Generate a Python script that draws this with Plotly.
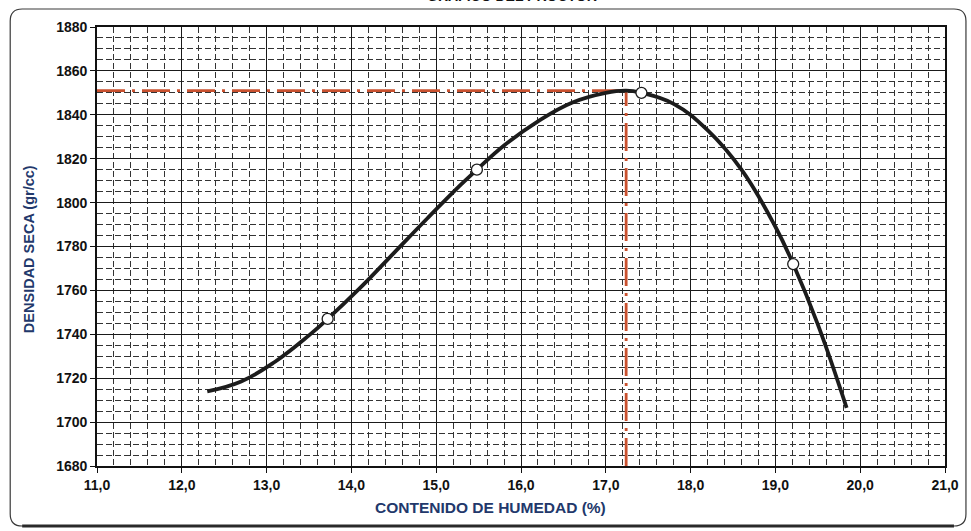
import plotly.graph_objects as go

# ---- data ----
humidity_pts = [13.72, 15.48, 17.42, 19.21]          # contenido de humedad (%)
density_pts = [1747, 1815, 1850, 1772]               # densidad seca (gr/cc)

curve_x = [12.3, 12.7, 13.1, 13.5, 13.72, 14.1, 14.5, 14.9, 15.3, 15.48, 15.8,
           16.2, 16.6, 17.0, 17.24, 17.42, 17.8, 18.2, 18.6, 19.0, 19.21, 19.5,
           19.84]
curve_y = [1714, 1718.5, 1727.5, 1739.5, 1747, 1761, 1777, 1793, 1808.5, 1815,
           1826, 1837, 1845.5, 1850, 1851, 1850, 1845, 1833, 1815, 1789, 1772,
           1744.5, 1706.5]

opt_humidity = 17.24
max_density = 1851

x_range = [11, 21]
y_range = [1680, 1880]

title_text = "GRAFICO DEL PROCTOR"
x_title = "CONTENIDO DE HUMEDAD (%)"
y_title = "DENSIDAD SECA (gr/cc)"

# ---- styles ----
FONT = "Arial, Liberation Sans, sans-serif"
NAVY = "#22386b"
RED = "#c9512f"
W, H = 971, 531
L, R, T, B = 97, 24, 27, 65

fig = go.Figure()

fig.add_trace(go.Scatter(
    x=[x_range[0], opt_humidity], y=[max_density, max_density],
    mode="lines", line=dict(color=RED, width=2.8, dash="28px,7px,3px,7px"),
    hoverinfo="skip", showlegend=False))
fig.add_trace(go.Scatter(
    x=[opt_humidity, opt_humidity], y=[y_range[0], max_density],
    mode="lines", line=dict(color=RED, width=2.8, dash="28px,7px,3px,7px"),
    hoverinfo="skip", showlegend=False))

fig.add_trace(go.Scatter(
    x=curve_x, y=curve_y, mode="lines",
    line=dict(color="#1c1c1c", width=3.8, shape="spline", smoothing=1.2),
    showlegend=False))

fig.add_trace(go.Scatter(
    x=humidity_pts, y=density_pts, mode="markers",
    marker=dict(size=11, color="white", line=dict(color="#1c1c1c", width=1.3)),
    showlegend=False))

axis_common = dict(
    showline=True, mirror=True, linecolor="#111", linewidth=1.6,
    showgrid=True, gridcolor="#1a1a1a", gridwidth=1.3,
    ticks="outside", ticklen=5, tickcolor="#111", tickwidth=1.2,
    zeroline=False,
    tickfont=dict(family=FONT, size=14, color="#111", weight="bold"),
)

fig.update_xaxes(
    range=x_range, dtick=1, tick0=11, tickformat=".1f",
    minor=dict(dtick=0.2, tick0=11, showgrid=True, gridcolor="#333333",
               gridwidth=1.3, griddash="6px,3px", ticks=""),
    **axis_common)
fig.update_yaxes(
    range=y_range, dtick=20, tick0=1680,
    minor=dict(dtick=5, tick0=1680, showgrid=True, gridcolor="#333333",
               gridwidth=1.3, griddash="6px,3px", ticks=""),
    **axis_common)

pw, ph = W - L - R, H - T - B


def px_x(X):
    return (X - L) / pw


def px_y(Y):
    return (H - B - Y) / ph


# rounded outer frame
fl, fr, ft, fb, rad = 10, 968, 9, 526, 12
path = (f"M {px_x(fl+rad)},{px_y(ft)} L {px_x(fr-rad)},{px_y(ft)} "
        f"Q {px_x(fr)},{px_y(ft)} {px_x(fr)},{px_y(ft+rad)} "
        f"L {px_x(fr)},{px_y(fb-rad)} Q {px_x(fr)},{px_y(fb)} {px_x(fr-rad)},{px_y(fb)} "
        f"L {px_x(fl+rad)},{px_y(fb)} Q {px_x(fl)},{px_y(fb)} {px_x(fl)},{px_y(fb-rad)} "
        f"L {px_x(fl)},{px_y(ft+rad)} Q {px_x(fl)},{px_y(ft)} {px_x(fl+rad)},{px_y(ft)} Z")
fig.add_shape(type="path", xref="paper", yref="paper", path=path,
              line=dict(color="#3a3a3a", width=1.2), layer="below")
fig.add_shape(type="line", xref="paper", yref="paper",
              x0=px_x(fl + rad), x1=px_x(fr - rad), y0=px_y(fb), y1=px_y(fb),
              line=dict(color="#2a2a2a", width=3), layer="below")

fig.add_annotation(text=title_text, xref="paper", yref="paper",
                   x=px_x(513), y=px_y(-4), xanchor="center", yanchor="middle",
                   showarrow=False,
                   font=dict(family=FONT, size=14, color="#111", weight="bold"))
fig.add_annotation(text=x_title, xref="paper", yref="paper",
                   x=px_x(491), y=px_y(508), xanchor="center", yanchor="middle",
                   showarrow=False,
                   font=dict(family=FONT, size=15.5, color=NAVY, weight="bold"))
fig.add_annotation(text=y_title, xref="paper", yref="paper",
                   x=px_x(29), y=px_y(249), xanchor="center", yanchor="middle",
                   textangle=-90, showarrow=False,
                   font=dict(family=FONT, size=14.5, color=NAVY, weight="bold"))

fig.update_layout(
    width=W, height=H,
    margin=dict(l=L, r=R, t=T, b=B),
    paper_bgcolor="white", plot_bgcolor="white",
    separators=",.",
    showlegend=False,
)

fig.write_html("out.html")
